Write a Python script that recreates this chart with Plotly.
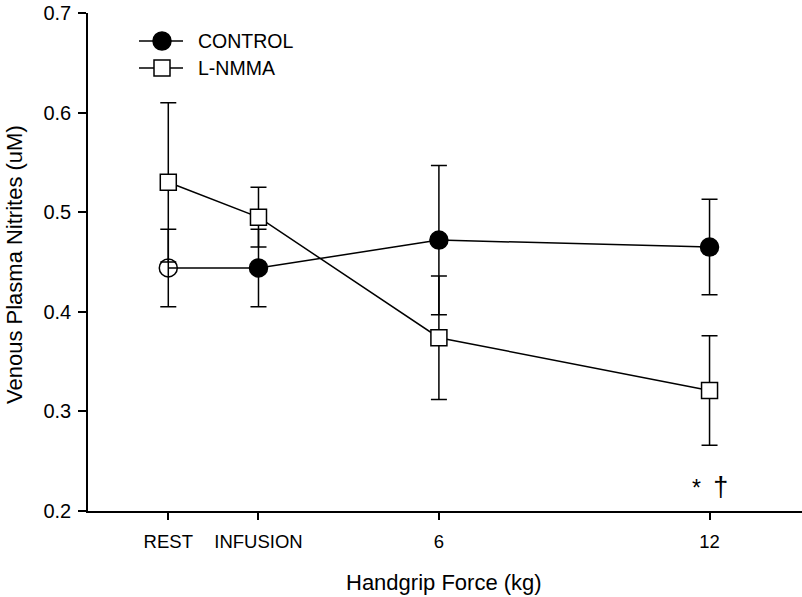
import plotly.graph_objects as go

categories = ["REST", "INFUSION", "6", "12"]
x_pos = [0, 2, 6, 12]

control = [0.444, 0.444, 0.472, 0.465]
control_err = [0.039, 0.039, 0.075, 0.048]
lnmma = [0.530, 0.495, 0.374, 0.321]
lnmma_err = [0.080, 0.030, 0.062, 0.055]

y_ticks = [0.2, 0.3, 0.4, 0.5, 0.6, 0.7]
series_names = ["CONTROL", "L-NMMA"]

FONT = "Liberation Sans, Arial, sans-serif"

# plot area spans x 88..802, y 13..511 of an 802x597 page
W, H = 802, 597
ML, MT = 88, 13
PW, PH = 714, 498
MB = H - MT - PH


def px(xp):
    return (xp - ML) / PW


def py(yp):
    return (MT + PH - yp) / PH


fig = go.Figure()

fig.add_trace(go.Scatter(
    x=x_pos, y=lnmma, name=series_names[1], mode="lines+markers",
    line=dict(color="black", width=1.5),
    marker=dict(symbol="square", size=16, color="white",
                line=dict(color="black", width=1.5)),
    error_y=dict(type="data", array=lnmma_err, color="black",
                 thickness=1.5, width=8),
))

fig.add_trace(go.Scatter(
    x=x_pos, y=control, name=series_names[0], mode="lines+markers",
    line=dict(color="black", width=1.5),
    marker=dict(symbol="circle", size=18,
                color=["rgba(0,0,0,0)", "black", "black", "black"],
                line=dict(color="black", width=1.5)),
    error_y=dict(type="data", array=control_err, color="black",
                 thickness=1.5, width=8),
))

# custom legend (line + symbol + label)
rows = [41, 68]
for i, name in enumerate(series_names):
    yy = py(rows[i])
    fig.add_shape(type="line", xref="paper", yref="paper",
                  x0=px(139), x1=px(183), y0=yy, y1=yy,
                  line=dict(color="black", width=1.5))
    if i == 0:
        fig.add_shape(type="circle", xref="paper", yref="paper",
                      xsizemode="pixel", ysizemode="pixel",
                      xanchor=px(162), yanchor=yy,
                      x0=-9, x1=9, y0=-9, y1=9,
                      fillcolor="black", line=dict(color="black", width=1.5))
    else:
        fig.add_shape(type="rect", xref="paper", yref="paper",
                      xsizemode="pixel", ysizemode="pixel",
                      xanchor=px(162), yanchor=yy,
                      x0=-8, x1=8, y0=-8, y1=8,
                      fillcolor="white", line=dict(color="black", width=1.5))
    fig.add_annotation(xref="paper", yref="paper", x=px(196), y=yy,
                       text=name, showarrow=False, xanchor="left",
                       yanchor="middle",
                       font=dict(family=FONT, size=19.5, color="black"))

fig.add_annotation(
    x=x_pos[3], y=0.224,
    text="<span style='font-size:23px'>*</span>  "
         "<span style='font-size:27px'>†</span>",
    showarrow=False, font=dict(family=FONT, size=22, color="black"),
    xanchor="center", yanchor="middle", xshift=0)

fig.add_annotation(xref="paper", yref="paper", x=px(444), y=py(582),
                   text="Handgrip Force (kg)", showarrow=False,
                   xanchor="center", yanchor="middle",
                   font=dict(family=FONT, size=22, color="black"))
fig.add_annotation(xref="paper", yref="paper", x=px(14), y=py(265),
                   text="Venous Plasma Nitrites (uM)", showarrow=False,
                   textangle=-90, xanchor="center", yanchor="middle",
                   font=dict(family=FONT, size=22, color="black"))

fig.update_layout(
    width=W, height=H,
    margin=dict(l=ML, r=0, t=MT, b=MB, pad=0, autoexpand=False),
    paper_bgcolor="white", plot_bgcolor="white",
    font=dict(family=FONT, size=19, color="black"),
    showlegend=False,
    xaxis=dict(
        range=[-1.78, 14.05], tickmode="array", tickvals=x_pos,
        ticktext=categories, showline=True, linecolor="black",
        linewidth=1.5, ticks="outside", ticklen=7, tickwidth=1.5,
        tickcolor="black", showgrid=False, zeroline=False,
        automargin=False, ticklabelstandoff=6,
        tickfont=dict(size=18.5),
    ),
    yaxis=dict(
        range=[0.2, 0.7], tickmode="array", tickvals=y_ticks,
        ticktext=[f"{v:.1f}" for v in y_ticks], showline=True,
        linecolor="black", linewidth=1.5, ticks="outside", ticklen=8,
        tickwidth=1.5, tickcolor="black", showgrid=False, zeroline=False,
        automargin=False, ticklabelstandoff=3, tickfont=dict(size=20),
    ),
)

fig.write_html(
    "out.html",
    config={"displayModeBar": False},
    post_script="document.body.style.margin='0';"
                "document.body.style.overflow='hidden';",
)
